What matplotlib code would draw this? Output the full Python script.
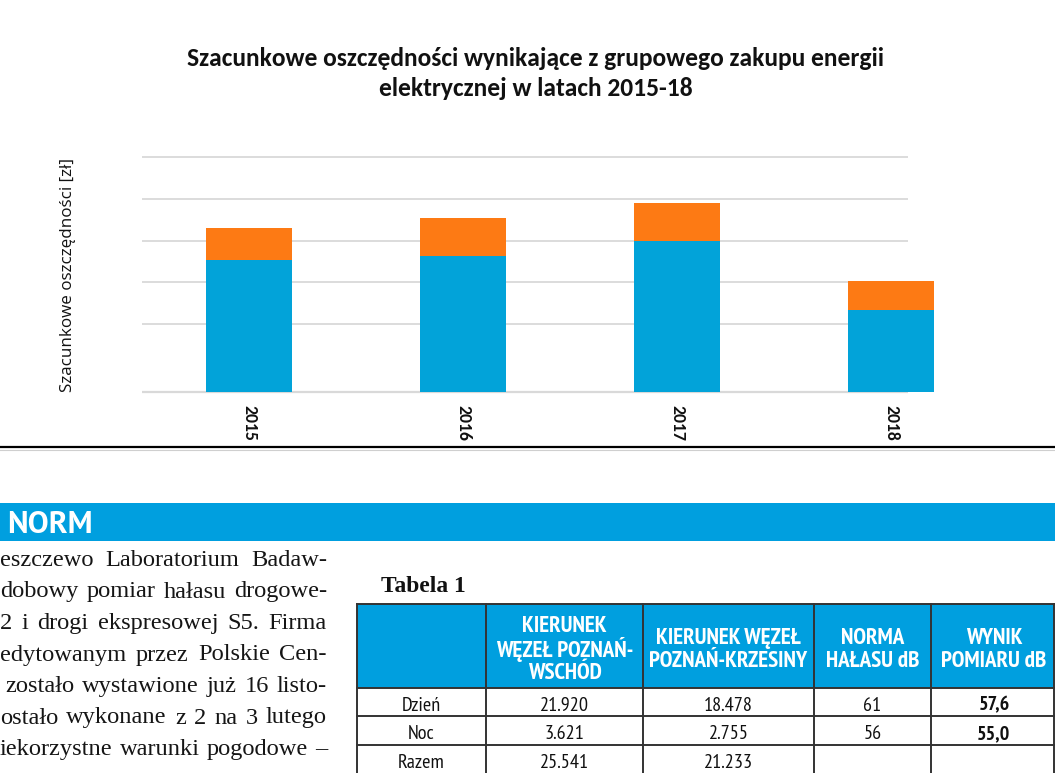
import matplotlib
matplotlib.use("Agg")
import matplotlib.pyplot as plt
from matplotlib.patches import Rectangle
from matplotlib.lines import Line2D

# ---------------- data ----------------
years = ["2015", "2016", "2017", "2018"]
savings_main = [132.0, 135.7, 151.0, 82.0]     # blue part (unlabelled axis units)
savings_extra = [31.7, 37.4, 37.4, 28.4]       # orange part
grid_values = [68, 109.5, 151, 193, 235]

title_lines = ["Szacunkowe oszczędności wynikające z grupowego zakupu energii",
               "elektrycznej w latach 2015-18"]
y_label = "Szacunkowe oszczędności [zł]"

section_title = "NORM"
body_lines = [
    "eszczewo Laboratorium Badaw-",
    "dobowy pomiar hałasu drogowe-",
    "2 i drogi ekspresowej S5. Firma",
    "edytowanym przez Polskie Cen-",
    "zostało wystawione już 16 listo-",
    "ostało wykonane z 2 na 3 lutego",
    "iekorzystne warunki pogodowe –",
]

table_caption = "Tabela 1"
table_header = ["", "KIERUNEK\nWĘZEŁ POZNAŃ-\nWSCHÓD", "KIERUNEK WĘZEŁ\nPOZNAŃ-KRZESINY",
                "NORMA\nHAŁASU dB", "WYNIK\nPOMIARU dB"]
row_labels = ["Dzień", "Noc", "Razem"]
col_wschod = ["21.920", "3.621", "25.541"]
col_krzesiny = ["18.478", "2.755", "21.233"]
col_norma = ["61", "56", ""]
col_wynik = ["57,6", "55,0", ""]

# ---------------- style ----------------
W, H = 1055, 773
BLUE = "#02A3D9"
ORANGE = "#FD7A14"
BAND = "#009FDF"
GRID = "#D9D9D9"

fig = plt.figure(figsize=(W / 100, H / 100), dpi=100)
fig.patch.set_facecolor("white")
R = fig.canvas.get_renderer()


def fx(x):
    return x / W


def fy(y):
    return 1 - y / H


def fit(t, target, dim="w"):
    bb = t.get_window_extent(R)
    cur = bb.width if dim == "w" else bb.height
    t.set_fontsize(t.get_fontsize() * target / cur)


# ---------------- chart ----------------
ax = fig.add_axes([fx(142), fy(391.5), (998 - 142) / W, 235 / H])
x = list(range(len(years)))
ax.hlines(grid_values, -0.5, 3.08, colors=GRID, lw=1.3, zorder=0, clip_on=False)
ax.hlines([0], -0.5, 3.08, colors=GRID, lw=1.6, zorder=0, clip_on=False)
ax.bar(x, savings_main, width=0.4, color=BLUE, zorder=2)
ax.bar(x, savings_extra, width=0.4, bottom=savings_main, color=ORANGE, zorder=2)
ax.set_xlim(-0.5, 3.5)
ax.set_ylim(0, 235)
for s in ax.spines.values():
    s.set_visible(False)
ax.set_yticks([])
ax.set_xticks(x)
probe = fig.text(0, 0, "2015", rotation=-90, fontfamily="Carlito", fontweight="bold", fontsize=12)
fit(probe, 36, "h")
tick_size = probe.get_fontsize()
probe.remove()
ax.set_xticklabels(years, rotation=-90, fontfamily="Carlito", fontweight="bold",
                   fontsize=tick_size, color="#111111")
ax.tick_params(axis="x", length=0, pad=9.5)
ax.patch.set_alpha(0)

t1 = fig.text(fx(535.5), fy(66.5), title_lines[0], ha="center", va="baseline",
              fontfamily="Carlito", fontweight="bold", fontsize=14, color="#111111")
fit(t1, 701)
t2 = fig.text(fx(535.5), fy(96.5), title_lines[1], ha="center", va="baseline",
              fontfamily="Carlito", fontweight="bold", fontsize=t1.get_fontsize(), color="#111111")

yl = fig.text(fx(68.5), fy(275), y_label, rotation=90, ha="center", va="center",
              fontfamily="Open Sans", fontsize=11, color="#111111")
fit(yl, 234, "h")

# separator lines
fig.add_artist(Line2D([0, 1], [fy(447), fy(447)], transform=fig.transFigure, color="black", lw=1.6))
fig.add_artist(Line2D([0, 1], [fy(449.5), fy(449.5)], transform=fig.transFigure, color="#CFCFCF", lw=0.8))

# ---------------- blue band ----------------
fig.add_artist(Rectangle((0, fy(540.7)), 1, (540.7 - 503.3) / H, transform=fig.transFigure,
                         facecolor=BAND, edgecolor="none"))
nt = fig.text(fx(7), fy(533.3), section_title, ha="left", va="baseline", color="white",
              fontfamily="PT Sans", fontweight="bold", fontsize=20)
fit(nt, 85)

# ---------------- body text (justified) ----------------
baselines = [566, 597.5, 629, 660.5, 692, 723.5, 755]
starts = [0, 0, 0, 0, 5, 0, 0]
right = 327
for line, yb, x0 in zip(body_lines, baselines, starts):
    words = line.split(" ")
    ts = [fig.text(0, fy(yb), w, ha="left", va="baseline", fontfamily="Liberation Serif",
                   fontsize=17.6, color="#151515") for w in words]
    ws = [t.get_window_extent(R).width for t in ts]
    gap = (right - x0 - sum(ws)) / (len(words) - 1)
    xp = x0
    for t, w in zip(ts, ws):
        t.set_x(fx(xp))
        xp += w + gap

# ---------------- table ----------------
cap = fig.text(fx(381), fy(592), table_caption, ha="left", va="baseline",
               fontfamily="Liberation Serif", fontweight="bold", fontsize=17, color="#111111")
fit(cap, 85)

col_x = [357, 486, 643, 814, 931, 1054]
row_y = [604, 688, 716.3, 745, 790]
LINE = "#333333"
fig.add_artist(Rectangle((fx(col_x[0]), fy(row_y[1])), (col_x[-1] - col_x[0]) / W,
                         (row_y[1] - row_y[0]) / H, transform=fig.transFigure,
                         facecolor=BAND, edgecolor="none"))
for yy in row_y[:-1]:
    fig.add_artist(Line2D([fx(col_x[0]), fx(col_x[-1])], [fy(yy), fy(yy)],
                          transform=fig.transFigure, color=LINE, lw=1.4))
for xx in col_x:
    fig.add_artist(Line2D([fx(xx), fx(xx)], [fy(row_y[0]), fy(row_y[-1])],
                          transform=fig.transFigure, color=LINE, lw=1.4))

centers = [(col_x[i] + col_x[i + 1]) / 2 for i in range(len(col_x) - 1)]
centers[4] = 994

# header
probe = fig.text(0, 0, "POZNAŃ-KRZESINY", fontfamily="PT Sans Narrow", fontweight="bold",
                 fontsize=16)
fit(probe, 159)
hdr_size = probe.get_fontsize()
probe.remove()
hdr_baselines = {3: [631.7, 656.7, 679.3], 2: [644, 667.3]}
for c, label in zip(centers, table_header):
    if not label:
        continue
    parts = label.split("\n")
    for p, yb in zip(parts, hdr_baselines[len(parts)]):
        fig.text(fx(c), fy(yb), p, ha="center", va="baseline", color="white",
                 fontfamily="PT Sans Narrow", fontweight="bold", fontsize=hdr_size)

# body cells
cell_size = 14.6
cell_baselines = [710.7, 739.3, 768.3]
columns = [row_labels, col_wschod, col_krzesiny, col_norma, col_wynik]
for ci, (c, vals) in enumerate(zip(centers, columns)):
    for v, yb in zip(vals, cell_baselines):
        if v:
            fig.text(fx(c), fy(yb), v, ha="center", va="baseline", color="#111111",
                     fontfamily="PT Sans Narrow", fontsize=cell_size,
                     fontweight="bold" if ci == 4 else "normal")

fig.savefig("out.png", dpi=100)
